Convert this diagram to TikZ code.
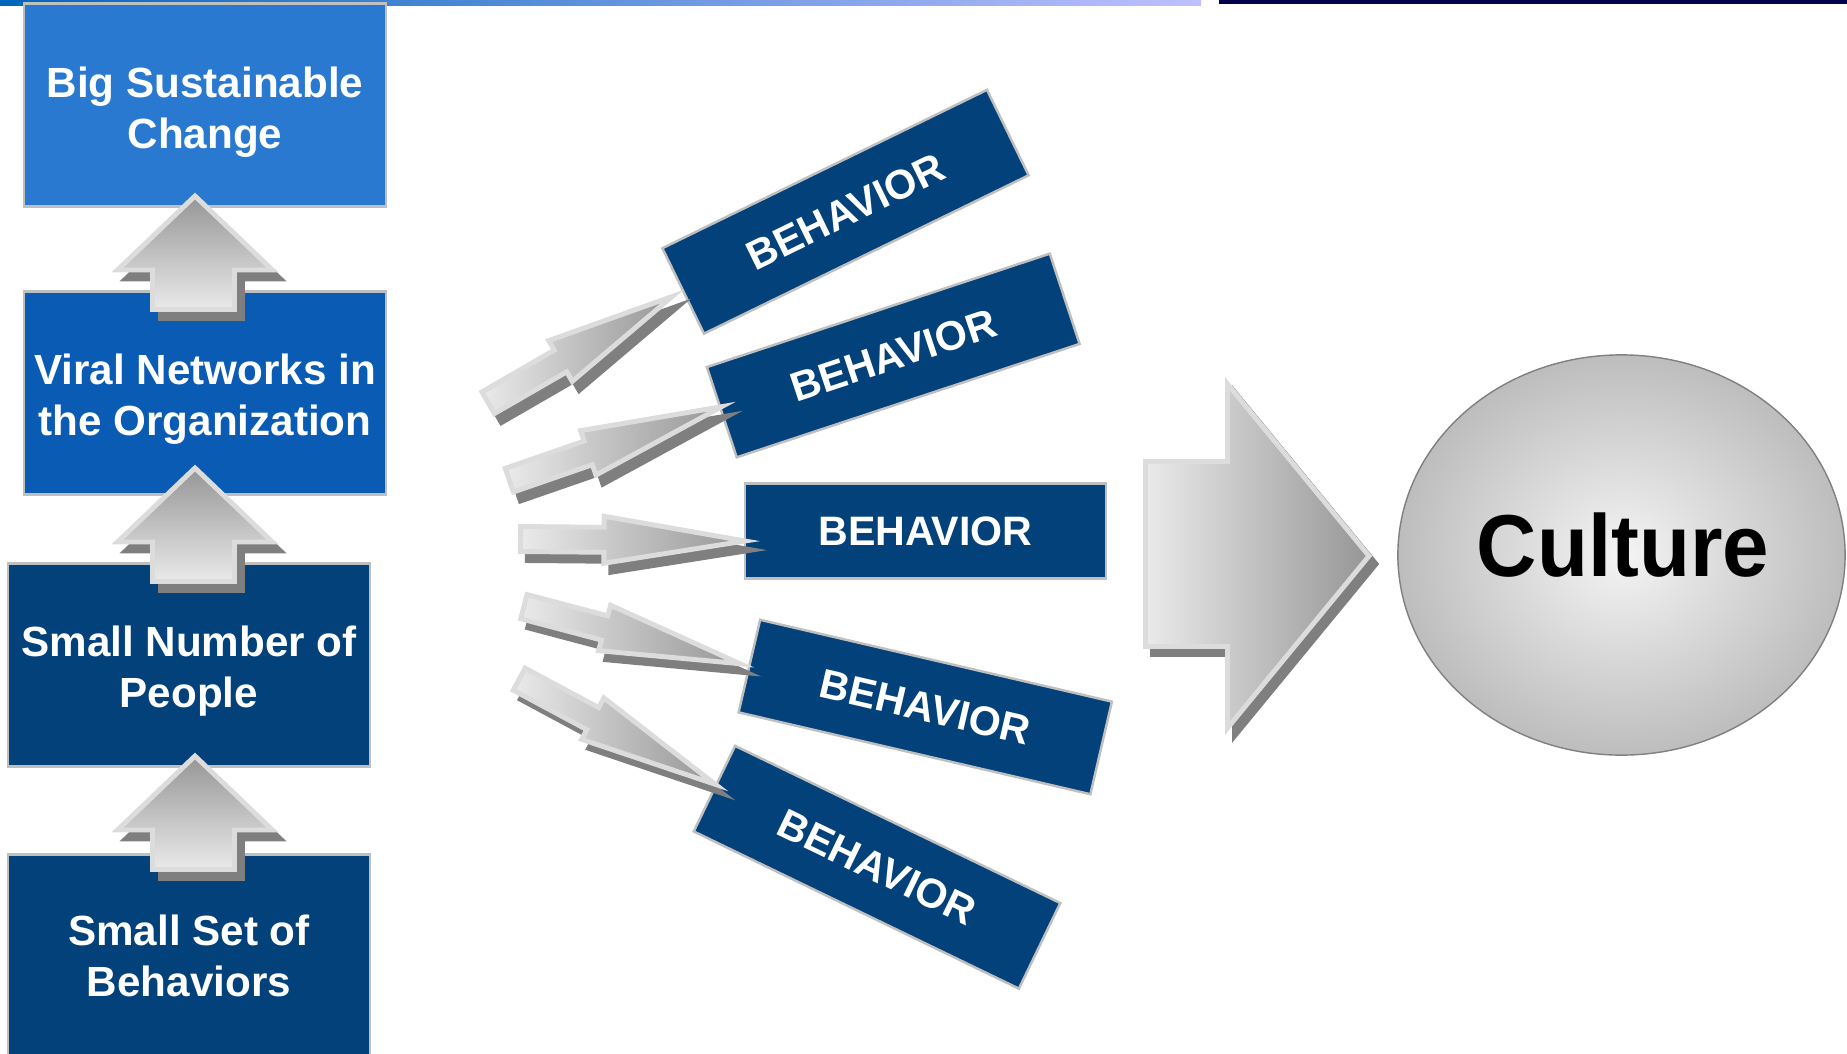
\documentclass[tikz,border=0pt]{standalone}
\usepackage{fontspec}
\setmainfont{Liberation Sans}
\usetikzlibrary{shapes.geometric}

\definecolor{skyblue}{HTML}{2979D1}
\definecolor{midblue}{HTML}{0A5BB3}
\definecolor{navyblue}{HTML}{02417A}
\definecolor{boxedge}{HTML}{BFBFBF}
\definecolor{arrowedge}{HTML}{DCDCDC}
\definecolor{arrowlight}{HTML}{EAEAEA}
\definecolor{arrowdark}{HTML}{969696}
\definecolor{shadowgray}{HTML}{7F7F7F}
\definecolor{globelight}{HTML}{F4F4F4}
\definecolor{globedark}{HTML}{BDBDBD}

\tikzset{
    stepbox/.style={draw=boxedge, line width=0.7pt, minimum width=3.62cm, minimum height=2.03cm,
        inner sep=0pt},
    steptext/.style={text=white, align=center, inner sep=0pt, font=\fontsize{12}{14.5}\selectfont\bfseries},
    behavbox/.style={draw=boxedge, line width=0.7pt, fill=navyblue, minimum width=3.61cm,
        minimum height=0.95cm, inner sep=0pt, text=white, font=\fontsize{11.7}{14}\selectfont\bfseries},
    arrowbody/.style={draw=arrowedge, line width=1.4pt},
    arrowshadow/.style={fill=shadowgray, draw=shadowgray, line width=1.4pt},
}

% small arrow: tail x, tail y, angle, length
\newcommand{\pointer}[4]{%
    \begin{scope}[shift={(#1+7,#2+9)}, rotate=#3]
        \filldraw[arrowshadow] (2.5,-12.5) -- (86,-12.5) -- (86,-23.5) -- (#4-17,0)
            -- (86,23.5) -- (86,12.5) -- (2.5,12.5) -- cycle;
    \end{scope}
    \begin{scope}[shift={(#1,#2)}, rotate=#3]
        \shadedraw[arrowbody, left color=arrowlight, right color=arrowdark] (2.5,-12.5) -- (86,-12.5)
            -- (86,-23.5) -- (#4-17,0) -- (86,23.5) -- (86,12.5) -- (2.5,12.5) -- cycle;
    \end{scope}}

% up arrow: tip x, tip y
\newcommand{\uppointer}[2]{%
    \begin{scope}[shift={(#1+8,#2+9)}]
        \filldraw[arrowshadow] (0,3) -- (77.5,77) -- (39.5,77) -- (39.5,116.5) -- (-42.5,116.5)
            -- (-42.5,77) -- (-77.5,77) -- cycle;
    \end{scope}
    \begin{scope}[shift={(#1,#2)}]
        \shadedraw[arrowbody, top color=arrowdark, bottom color=arrowlight] (0,3) -- (77.5,77)
            -- (39.5,77) -- (39.5,116.5) -- (-42.5,116.5) -- (-42.5,77) -- (-77.5,77) -- cycle;
    \end{scope}}

\begin{document}
\begin{tikzpicture}[x=0.01cm, y=-0.01cm]
    \useasboundingbox (0,0) rectangle (1847,1054);
    \clip (0,0) rectangle (1847,1054);

    % top strip
    \shade[left color=blue!55!black!60!cyan, right color=blue!25!white] (0,0) rectangle (1201,5);
    \fill[blue!30!black] (1219,0) rectangle (1847,4);

    \node(big)[stepbox, fill=skyblue] at (205,105) {};
    \node(viral)[stepbox, fill=midblue] at (205,393) {};
    \node(people)[stepbox, fill=navyblue] at (189,665) {};
    \node(set)[stepbox, fill=navyblue] at (189,956) {};

    \node(bigtext)[steptext] at (205,112) {Big Sustainable\\Change};
    \node(viraltext)[steptext] at (205,399) {Viral Networks in\\the Organization};
    \node(peopletext)[steptext] at (189,671) {Small Number of\\People};
    \node(settext)[steptext] at (189,956) {Small Set of\\Behaviors};

    \uppointer{195}{193}
    \uppointer{195}{465}
    \uppointer{195}{753}

    \node(b1)[behavbox, rotate=26] at (845.5,211.75) {BEHAVIOR};
    \node(b2)[behavbox, rotate=18.3] at (893.25,355.5) {BEHAVIOR};
    \node(b3)[behavbox] at (925.5,531) {BEHAVIOR};
    \node(b4)[behavbox, rotate=-13.1] at (925.25,707) {BEHAVIOR};
    \node(b5)[behavbox, rotate=-25.8] at (877,867.25) {BEHAVIOR};

    \pointer{486}{404}{30}{232}
    \pointer{507}{481}{19.1}{244}
    \pointer{518}{539}{-0.5}{244}
    \pointer{521.5}{606}{-14.8}{243}
    \pointer{517}{678}{-28.2}{242}

    % big arrow
    \filldraw[arrowshadow, shift={(7,8)}] (1145.5,461.5) -- (1227.5,461.5) -- (1227.5,384) -- (1369,556)
        -- (1227.5,728) -- (1227.5,646.5) -- (1145.5,646.5) -- cycle;
    \shadedraw[arrowbody, left color=arrowlight, right color=arrowdark] (1145.5,461.5) -- (1227.5,461.5)
        -- (1227.5,384) -- (1369,556) -- (1227.5,728) -- (1227.5,646.5) -- (1145.5,646.5) -- cycle;

    \node(culture)[ellipse, draw=gray, line width=0.4pt, inner color=globelight,
        outer color=globedark, minimum width=4.47cm, minimum height=4cm] at (1621.5,555) {};
    \node(culturetext)[font=\fontsize{25}{27}\selectfont\bfseries, xscale=0.95, inner sep=0pt]
        at (1623,545) {Culture};
\end{tikzpicture}
\end{document}
